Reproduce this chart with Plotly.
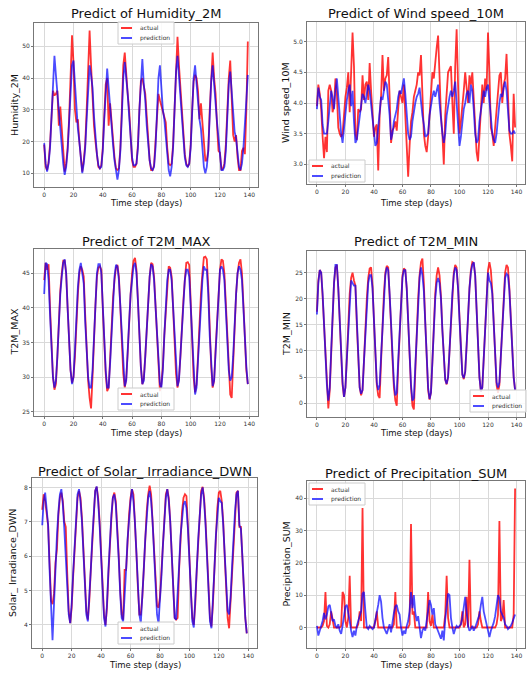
import plotly.graph_objects as go

W, H = 527, 675
days = list(range(140))

humidity_actual = [
    19, 12, 11, 13.5, 19, 27, 36, 34.5, 35, 36, 25, 31, 23, 15, 10.5,
    13, 18, 27, 40, 53.5, 45, 30, 26, 27, 20, 14,
    10.5, 14, 19, 30, 43, 55, 44, 32, 25, 20, 15, 12,
    11.5, 12.5, 18, 28, 38, 40, 25, 32, 26, 20, 15, 11.5,
    11, 11.5, 18, 30, 44, 48, 40, 35, 30, 22, 14, 12,
    12, 13, 19, 30, 39, 40, 37, 35, 28, 20, 14, 11,
    11, 12.5, 20, 30, 35, 33, 31, 30, 27, 26, 18, 13,
    12.5, 13, 19, 32, 46, 53, 44, 36, 30, 22, 16, 13,
    12, 13, 19, 30, 39, 41, 40, 36, 27, 32, 25, 18,
    14, 14, 17, 30, 42, 48, 40, 35, 25, 17, 16.5, 11,
    11.5, 13, 19, 30, 40, 45.5, 35, 22, 20, 22, 15, 11,
    11, 17, 18, 16, 30, 51.5,
]
humidity_pred = [
    19.5, 13, 10.5, 13, 18, 27, 38, 47, 41, 35, 30, 26, 20, 13, 9.5,
    12, 17, 25, 36, 44, 45.5, 38, 30, 24, 20, 15,
    10, 13, 18, 27, 38, 44, 41, 37, 28, 21, 16, 12.5,
    11.5, 12, 17, 27, 37, 43, 37, 30, 25, 19, 14, 10,
    8, 11, 17, 28, 40, 45, 41, 35, 28, 21, 15, 12.5,
    12.5, 13, 18, 30, 40, 46, 38, 33, 25, 19, 14, 11.5,
    11, 12, 18, 29, 40, 44, 37, 30, 27, 22, 16, 11,
    9, 12, 18, 30, 42, 47, 41, 34, 27, 20, 15, 12.5,
    12, 13, 18, 29, 40, 44, 38, 31, 27, 24, 17, 12,
    10, 12, 17, 28, 39, 44, 39, 32, 26, 20, 14, 11,
    11, 12, 17, 28, 38, 42, 36, 30, 23, 21, 16, 12,
    11, 13, 18, 24, 33, 41,
]

wind_actual = [
    3.95, 4.3, 4.15, 3.9, 3.45, 3.1, 3.45, 3.2, 4.2, 4.3,
    4.2, 3.85, 3.95, 4.4, 4.15, 3.6, 3.5, 3.45, 3.5, 3.85,
    4.1, 4.25, 4.5, 3.85, 4.7, 5.15, 4.6, 3.5, 3.4, 3.9,
    3.85, 3.9, 4.45, 4.05, 4.3, 4.35, 4.05, 4.65, 4.2, 3.8,
    3.45, 3.6, 3.65, 2.9, 3.8, 4.1, 4.78, 4.2, 4.4, 4.45,
    4.75, 4.1, 3.35, 3.55, 3.6, 3.7, 3.55, 3.9, 4.2, 4.1,
    4.0, 4.3, 3.7, 3.3, 2.8, 3.3, 3.7, 3.85, 4.1, 4.2,
    4.3, 4.5, 4.45, 4.78, 4.0, 3.5, 3.3, 3.2, 3.45, 3.8,
    4.0, 4.5, 4.4, 4.7, 4.9, 5.1, 4.3, 3.8, 3.5, 3.0,
    3.8, 4.2, 4.5, 4.55, 4.6, 4.0, 3.5, 4.6, 5.2, 4.3,
    3.5, 3.7, 3.9, 4.2, 4.5, 4.3, 4.0, 4.45, 4.3, 4.5,
    4.0, 3.6, 3.2, 3.05, 3.5, 3.8, 4.3, 4.0, 4.4, 4.2,
    5.15, 4.5, 3.6, 3.5, 3.3, 3.6, 3.9, 4.2, 4.45, 4.5,
    4.0, 4.3, 4.4, 4.8, 4.2, 3.5, 3.3, 3.05, 4.15, 3.6,
]
wind_pred = [
    3.9, 4.25, 4.1, 4.05, 3.65, 3.5, 3.5, 3.5, 3.7, 4.0,
    4.2, 4.1, 3.9, 4.2, 4.4, 4.1, 3.7, 3.5, 3.35, 3.6,
    3.9, 4.05, 4.2, 4.3, 3.95, 4.2, 3.7, 3.35, 3.4, 3.6,
    3.8, 4.0, 4.15, 4.1, 4.0, 4.15, 4.3, 4.2, 3.95, 3.8,
    3.5, 3.3, 3.35, 3.6, 3.9, 4.1, 4.05, 4.2, 4.35, 4.3,
    4.1, 3.8, 3.4, 3.5, 3.7, 3.8, 3.9, 4.1, 4.2, 4.15,
    4.3, 4.4, 4.15, 3.8, 3.5, 3.4, 3.45, 3.7, 3.9, 4.0,
    4.1, 4.15, 4.25, 4.0, 3.8, 3.65, 3.45, 3.47, 3.5, 3.8,
    4.0, 4.1, 4.2, 4.1, 4.2, 4.3, 4.0, 3.7, 3.5, 3.35,
    3.5, 3.8, 4.0, 4.1, 4.2, 4.1, 4.2, 4.35, 4.0, 3.6,
    3.3, 3.45, 3.7, 3.9, 4.0, 4.15, 4.2, 4.0, 4.3, 4.2,
    3.9, 3.5, 3.35, 3.4, 3.7, 3.9, 4.1, 4.2, 4.1, 4.25,
    4.3, 4.0, 3.85, 3.5, 3.4, 3.35, 3.5, 3.8, 4.0, 4.15,
    4.1, 4.25, 4.35, 4.2, 3.8, 3.55, 3.5, 3.5, 3.55, 3.5,
]

t2m_max_actual = [
    44, 46.5, 45.5, 46.3, 40, 34, 30, 28.2, 29, 33,
    38.5, 42.5, 45, 46.8, 46.8, 45, 40, 35, 31, 29.2,
    30, 33, 38, 42, 45, 46, 45.5, 44.5, 39, 34,
    29.5, 27, 25.5, 30, 36, 40.5, 44.5, 45.8, 46, 45.5,
    40, 35, 30.5, 28, 28.5, 32.5, 37.5, 41.5, 44, 45.8,
    46.2, 44.5, 40, 35, 30.5, 28.5, 29.8, 33.5, 38.5, 42,
    45, 46.8, 47.2, 45.5, 41, 36, 31.5, 29, 29.8, 33,
    37, 41, 44.5, 46.5, 46.3, 44.5, 40, 35, 30.5, 28,
    29, 31.5, 36, 40, 44, 46, 45.8, 44.5, 40, 35,
    30.5, 28.5, 29.8, 33, 37.5, 41, 44, 46.5, 46.6, 46.2,
    41, 35, 30, 27.8, 29, 33, 38, 42, 45, 47.3,
    47.4, 47, 43, 36.5, 31.5, 28.5, 29.5, 34, 38.5, 43,
    45.5, 47, 46.8, 45, 40.5, 35, 30.5, 27.5, 27, 32,
    38, 42, 45, 46.5, 47, 45, 40.5, 35.5, 31, 29,
]
t2m_max_pred = [
    42, 46.5, 46.3, 44, 39, 34, 30, 28.5, 29.5, 33,
    38, 42, 44.5, 46.5, 47, 45, 40, 35, 31, 29,
    30, 34, 39, 43, 45.5, 46.5, 45, 43.5, 38, 34,
    30, 28.5, 28.5, 31, 36, 41, 45, 46.3, 46.3, 45,
    40, 35, 31, 28.5, 28.5, 32, 37, 41.5, 44.5, 46.2,
    46, 44, 40, 35, 31, 28.7, 29.5, 33, 38, 42,
    44.5, 46, 46.5, 45, 41, 36, 31.5, 29, 29.5, 33,
    37, 41.5, 44.5, 46.3, 46, 44, 40, 35, 31, 29,
    28.5, 31, 36, 40.5, 44, 45.5, 45.5, 44, 40, 35,
    31, 28.7, 29.5, 33, 37.5, 41.5, 44, 45.5, 45.5, 44.5,
    40, 35, 30.5, 27.5, 28.5, 32.5, 37.5, 41.5, 44, 46,
    45.5, 45.5, 42, 36, 31.5, 28.7, 29.5, 33.5, 38.5, 43,
    45.5, 46, 45.5, 44, 40, 35, 31, 29.5, 30, 33,
    38, 42, 45, 46, 45.5, 44, 40, 35.5, 31.5, 29,
]

t2m_min_actual = [
    17.5, 23.5, 25.5, 25, 20.5, 14.5, 8, 2.5, -1, 2.5,
    10, 17.5, 23, 26, 26.5, 22, 15, 9, 3.5, 1.2,
    3, 8.5, 15, 21, 24, 25, 23.5, 22.5, 15, 8.5,
    3, 1.5, 2.5, 8, 14.5, 20, 24, 25.8, 26, 22.5,
    16, 9, 3.5, 1.5, 1, 8, 15, 21, 25, 26.3,
    26, 21.5, 15, 8.5, 3, 0.5, -0.5, 7, 14, 20,
    24.5, 25.8, 25.5, 22, 15.5, 8.5, 3, -0.5, -1.2, 6,
    13.5, 20, 24.5, 27, 27.7, 23, 15.5, 8.5, 2.5, 0.7,
    2, 8, 15, 21, 24.5, 26, 24.5, 20.5, 14, 8.5,
    4.5, 3.6, 5, 10, 16, 21.5, 25, 26.5, 26, 22,
    16, 10, 5.5, 4.6, 6, 11, 17, 22, 25.5, 27,
    26.8, 24.5, 18, 11, 5, 2.2, 3, 8.5, 15, 21,
    25.5, 27, 25.5, 21.5, 15, 8.5, 3.5, 2, 3.5, 9,
    15, 21, 25, 26.5, 26, 22, 16, 10, 5, 2.5,
]
t2m_min_pred = [
    17, 23, 25.5, 25, 21, 15, 9, 3.5, 0.5, 3,
    10, 17, 23, 26.5, 26.5, 22, 15, 9, 4, 1.2,
    3, 8.5, 14.5, 20, 23.5, 23, 22.5, 22.5, 15, 8.5,
    3, 1.8, 2.5, 8, 14, 19.5, 23, 24.5, 24.5, 22,
    16, 9.5, 4, 2.5, 3.5, 9, 15, 20.5, 24.5, 26,
    25.5, 21, 15, 9, 4, 1.5, 2, 8, 14, 20,
    24, 25.5, 25.5, 22, 15.5, 9, 3.5, 0.5, 1, 7,
    13.5, 19.5, 24, 26, 24.5, 21.5, 15, 8.5, 3, 0.8,
    2, 8, 14.5, 20, 23, 24, 23, 20, 14, 8.5,
    4.5, 3.7, 5, 10, 16, 21, 24.5, 26, 25.5, 22,
    16, 10, 5.5, 4.8, 6, 11, 17, 22, 25, 26.5,
    27, 24.5, 18, 11, 5, 2.3, 3, 8.5, 15, 20.5,
    25, 23.5, 23, 21, 15, 9, 4, 3, 4, 9,
    15, 20.5, 24, 24.8, 24.5, 21.5, 16, 10, 5, 2.5,
]

solar_actual = [
    7.35, 7.8, 7.6, 7.3, 6.9, 5.8, 4.7, 4.6, 4.9, 5.8,
    6.2, 7.2, 7.7, 7.85, 7.6, 7.0, 6.85, 5.5, 4.4, 4.05,
    4.5, 5.4, 6.3, 7.1, 7.7, 7.9, 7.7, 7.1, 6.2, 5.2,
    4.4, 4.15, 4.7, 5.6, 6.5, 7.3, 7.9, 8.02, 7.7, 7.0,
    6.0, 5.0, 4.3, 4.0, 4.5, 5.5, 6.4, 7.1, 7.7, 7.85,
    7.6, 6.9, 6.0, 5.0, 4.3, 4.15, 5.6, 5.6, 6.5, 7.2,
    7.7, 7.95, 7.8, 7.1, 6.1, 5.1, 4.3, 4.3, 4.8, 5.6,
    6.5, 7.3, 7.8, 8.05, 7.8, 7.1, 6.3, 5.4, 4.55, 4.5,
    4.8, 5.6, 6.3, 7.1, 7.8, 7.95, 7.7, 7.0, 6.0, 5.0,
    4.2, 4.15, 4.2, 5.6, 6.6, 7.3, 7.7, 7.8, 7.75, 7.0,
    6.0, 5.0, 4.2, 4.0, 4.6, 5.6, 6.5, 7.3, 7.9, 8.02,
    7.7, 7.0, 6.0, 5.0, 4.2, 3.95, 4.6, 5.6, 6.6, 7.4,
    7.85, 7.9, 7.6, 7.0, 6.0, 5.0, 4.2, 3.9, 4.7, 5.7,
    6.6, 7.3, 7.85, 7.9, 6.85, 6.85, 6.0, 5.0, 4.2, 3.75,
]
solar_pred = [
    6.9, 7.6, 7.85, 7.4, 6.9, 5.6, 4.6, 3.55, 4.6, 5.7,
    6.6, 7.3, 7.8, 7.95, 7.5, 6.8, 6.0, 5.0, 4.3, 4.05,
    4.6, 5.5, 6.4, 7.2, 7.8, 7.95, 7.6, 7.0, 6.1, 5.1,
    4.3, 4.1, 4.7, 5.6, 6.5, 7.3, 7.9, 8.03, 7.6, 6.9,
    6.0, 5.0, 4.2, 3.95, 4.6, 5.6, 6.5, 7.2, 7.7, 7.8,
    7.5, 6.8, 5.9, 4.9, 4.2, 4.1, 4.7, 5.6, 6.5, 7.2,
    7.6, 7.95, 7.6, 7.0, 6.1, 5.0, 4.3, 4.05, 4.7, 5.6,
    6.5, 7.2, 7.7, 7.9, 7.6, 7.0, 6.0, 5.0, 4.3, 4.05,
    4.6, 5.4, 6.3, 7.1, 7.7, 7.95, 7.6, 7.0, 6.0, 5.0,
    4.2, 4.15, 4.8, 5.7, 6.6, 7.2, 7.5, 7.6, 7.4, 6.8,
    5.9, 4.9, 4.1, 3.92, 4.6, 5.6, 6.5, 7.2, 7.8, 8.0,
    7.6, 6.9, 5.9, 4.9, 4.1, 3.9, 4.6, 5.6, 6.6, 7.3,
    7.7, 7.6, 7.55, 6.9, 6.0, 5.0, 4.4, 4.3, 4.8, 5.7,
    6.6, 7.3, 7.8, 7.9, 6.9, 6.8, 6.0, 5.0, 4.2, 3.75,
]

precip_actual = [
    0, 0, 0, 0, 0.5, 2, 11, 0.5, 0, 1,
    5, 2, 0, 0, 0, 0, 0, 0.5, 11, 10,
    2, 0, 3, 16, 0, 0, 0, 0, 0, 1,
    5, 2, 37, 0, 0, 0, 0, 0, 0, 0,
    0, 2, 5, 0, 0, 0, 0, 0, 0, 0,
    0, 0, 0, 0, 1, 11, 0, 0, 0, 0,
    0, 0, 0, 0, 0, 1, 32, 4, 5, 0,
    0, 0, 0, 0, 0, 0, 0, 0, 11, 2,
    0.5, 4, 0, 0, 0, 0, 0, 0, 0, 0,
    4, 16, 3, 0, 0, 0, 0, 0, 0, 0,
    0, 1, 5, 0, 1, 9.5, 0, 21, 0, 0,
    0, 0, 0, 1, 5, 2, 0, 0, 0, 0,
    0, 0, 0, 0, 0, 0, 1, 4, 33, 2,
    3, 8.5, 0, 0, 0, 0, 0, 0, 4, 43,
]
precip_pred = [
    0.5, -2.5, -1, 0.5, 2, 4.5, 2.5, 4, 6.5, 7,
    4, 2, 2.5, 0.5, 0, 1, -1, -2, 0.5, 4,
    6.5, 7, 5, 2, -1, -3, -1, -2.5, 0.5, 2,
    3, 5, 10.5, 11, 5, 0, -0.5, 0.5, 0, -0.5,
    0, 2, 4, 7, 10, 8, 3, 0, -1, -2,
    -0.5, 1, -1.5, 2, 4.5, 6.5, 7, 5, 4, 0,
    -2.5, -1, -2, 0.5, 2, 5, 11, 6, 10, 4.5,
    2, 3.5, -1, -3.3, -1, 0, -1, 2, 6, 8.5,
    7, 4, 6, 1, 0, -1, -2, -3.5, -1, -4,
    2.5, 6, 10.5, 10, 3, 0, -2, -0.5, 0.5, 0,
    0.5, 1, 3, 6, 9.5, 5, 0.5, -1, -0.5, 0.5,
    -1, 0, 1.5, 2.5, 4, 7, 9.5, 5, 3, 0,
    -2, -3, -1, 0, 1.5, 3.5, 7, 10, 9, 5,
    4, 3, 1, 0.5, -0.5, 0, 0.5, 1.5, 3, 4,
]

series_names = ["actual", "prediction"]
ACTUAL_COLOR = "rgba(255,0,0,0.8)"
PRED_COLOR = "rgba(0,0,255,0.7)"

# Panel layout: axes box in pixels (left, right, top, bottom), legend box top-left
panels = [
    dict(title="Predict of Humidity_2M", ylabel="Humidity_2M",
         actual=humidity_actual, pred=humidity_pred,
         yticks=[10, 20, 30, 40, 50], fmt="{:d}",
         box=(34, 258, 23, 187), title_y=13, xlabel_y=203, ylabel_x=14,
         legend=(118, 22)),
    dict(title="Predict of Wind speed_10M", ylabel="Wind speed_10M",
         actual=wind_actual, pred=wind_pred,
         yticks=[3.0, 3.5, 4.0, 4.5, 5.0], fmt="{:.1f}",
         box=(307, 525, 22, 184), title_y=13, xlabel_y=203, ylabel_x=285,
         legend=(309, 160)),
    dict(title="Predict of T2M_MAX", ylabel="T2M_MAX",
         actual=t2m_max_actual, pred=t2m_max_pred,
         yticks=[25, 30, 35, 40, 45], fmt="{:d}",
         box=(34, 258, 249, 416), title_y=241, xlabel_y=433, ylabel_x=14,
         legend=(118, 388)),
    dict(title="Predict of T2M_MIN", ylabel="T2M_MIN",
         actual=t2m_min_actual, pred=t2m_min_pred,
         yticks=[0, 5, 10, 15, 20, 25], fmt="{:d}",
         box=(307, 525, 251, 417), title_y=242, xlabel_y=433, ylabel_x=286,
         legend=(470, 390)),
    dict(title="Predict of Solar_ Irradiance_DWN", ylabel="Solar_ Irradiance_DWN",
         actual=solar_actual, pred=solar_pred,
         yticks=[4, 5, 6, 7, 8], fmt="{:d}",
         box=(32, 257, 478, 648), title_y=471, xlabel_y=665, ylabel_x=12,
         legend=(118, 622)),
    dict(title="Predict of Precipitation_SUM", ylabel="Precipitation_SUM",
         actual=precip_actual, pred=precip_pred,
         yticks=[0, 10, 20, 30, 40], fmt="{:d}",
         box=(307, 525, 481, 648), title_y=473, xlabel_y=665, ylabel_x=286,
         legend=(309, 483)),
]

x_ticks = [0, 20, 40, 60, 80, 100, 120, 140]
span_x = days[-1] - days[0]
x_range = [days[0] - 0.05 * span_x, days[-1] + 0.05 * span_x]

FONT = "DejaVu Sans"


def px(x):
    return x / W


def py(y):
    return 1 - y / H


fig = go.Figure()
layout = dict(width=W, height=H, margin=dict(l=0, r=0, t=0, b=0),
              paper_bgcolor="white", plot_bgcolor="white", showlegend=False,
              font=dict(family=FONT, color="#222"), annotations=[], shapes=[])

for i, p in enumerate(panels, start=1):
    sfx = "" if i == 1 else str(i)
    left, right, top, bottom = p["box"]
    vals = p["actual"] + p["pred"]
    lo, hi = min(vals), max(vals)
    pad = 0.05 * (hi - lo)

    fig.add_trace(go.Scatter(
        x=days, y=p["actual"], mode="lines", name=series_names[0],
        line=dict(color=ACTUAL_COLOR, width=1.8),
        xaxis="x" + sfx, yaxis="y" + sfx))
    fig.add_trace(go.Scatter(
        x=days, y=p["pred"], mode="lines", name=series_names[1],
        line=dict(color=PRED_COLOR, width=1.8),
        xaxis="x" + sfx, yaxis="y" + sfx))

    axis_common = dict(showline=True, mirror=True, linecolor="#777", linewidth=1,
                       ticks="outside", ticklen=2, tickcolor="#777",
                       showgrid=True, gridcolor="#d9d9d9", gridwidth=1,
                       zeroline=False, tickfont=dict(size=6, color="#333"))
    layout["xaxis" + sfx] = dict(
        domain=[px(left), px(right)], anchor="y" + sfx, range=x_range,
        tickvals=x_ticks, ticktext=[str(t) for t in x_ticks], **axis_common)
    layout["yaxis" + sfx] = dict(
        domain=[py(bottom), py(top)], anchor="x" + sfx,
        range=[lo - pad, hi + pad], tickvals=p["yticks"],
        ticktext=[p["fmt"].format(t) for t in p["yticks"]], **axis_common)

    # compact legend box: frame, two line keys and their labels
    lx, ly = p["legend"]
    layout["shapes"].append(dict(
        type="rect", xref="paper", yref="paper",
        x0=px(lx), x1=px(lx + 56), y0=py(ly + 22), y1=py(ly),
        line=dict(color="#cccccc", width=1), fillcolor="rgba(255,255,255,0.85)"))
    for k, (name, color) in enumerate(zip(series_names, [ACTUAL_COLOR, PRED_COLOR])):
        ry = ly + 6 + 10 * k
        layout["shapes"].append(dict(
            type="line", xref="paper", yref="paper",
            x0=px(lx + 3), x1=px(lx + 14), y0=py(ry), y1=py(ry),
            line=dict(color=color, width=2)))
        layout["annotations"].append(dict(
            text=name, x=px(lx + 20), y=py(ry), xref="paper", yref="paper",
            xanchor="left", yanchor="middle", showarrow=False,
            font=dict(size=6, color="#333")))

    cx = (left + right) / 2
    layout["annotations"] += [
        dict(text=p["title"], x=px(cx), y=py(p["title_y"]), xref="paper",
             yref="paper", xanchor="center", yanchor="middle", showarrow=False,
             font=dict(size=13, color="#111")),
        dict(text="Time step (days)", x=px(cx), y=py(p["xlabel_y"]),
             xref="paper", yref="paper", xanchor="center", yanchor="middle",
             showarrow=False, font=dict(size=8.5, color="#111")),
        dict(text=p["ylabel"], x=px(p["ylabel_x"]), y=py((top + bottom) / 2),
             xref="paper", yref="paper", xanchor="center", yanchor="middle",
             textangle=-90, showarrow=False, font=dict(size=9.5, color="#111")),
    ]

fig.update_layout(**layout)
fig.write_html("out.html")
